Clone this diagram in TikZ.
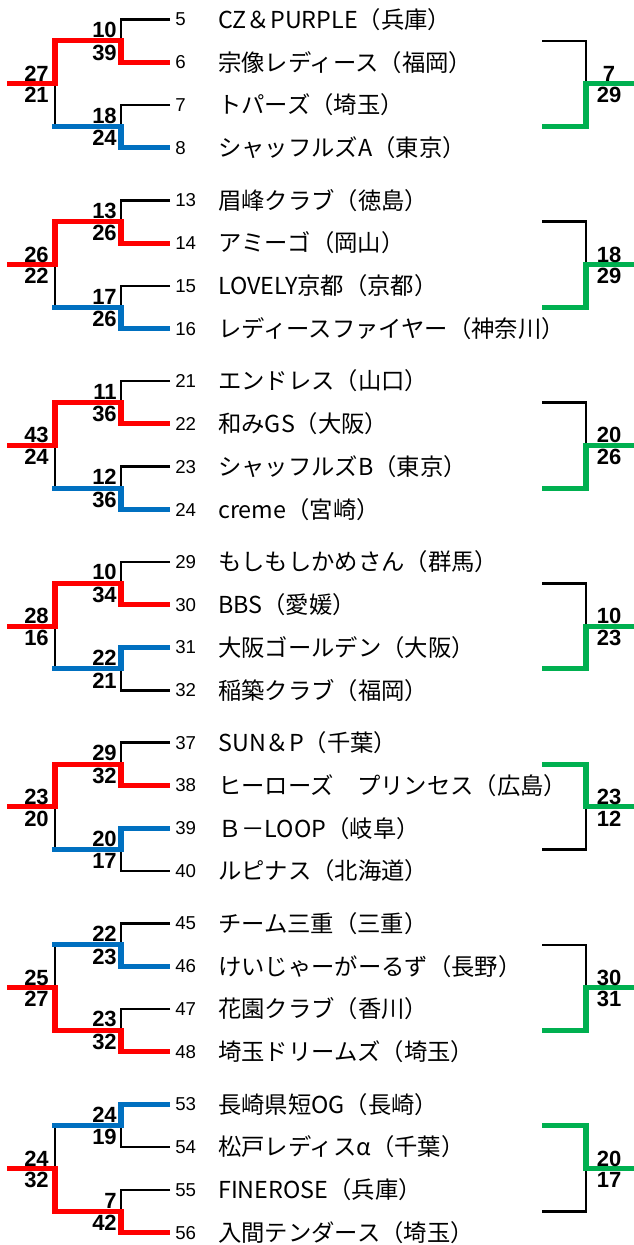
\documentclass[tikz,border=0pt]{standalone}
\usepackage{fontspec}
\setmainfont{Liberation Sans}
\newfontfamily\jpfont{Noto Sans CJK JP}
\definecolor{winred}{RGB}{255,0,0}
\definecolor{winblue}{RGB}{0,112,192}
\definecolor{wingreen}{RGB}{0,176,80}
\tikzset{
  bline/.style={line width=1.9pt, black},
  redline/.style={line width=3.8pt, winred},
  blueline/.style={line width=3.8pt, winblue},
  greenline/.style={line width=3.8pt, wingreen},
  seed/.style={anchor=west, inner sep=0pt, inner xsep=3.75pt, font=\fontsize{14}{15}\selectfont},
  teamname/.style={anchor=west, inner sep=0pt, font=\jpfont\fontsize{17.5}{19}\selectfont},
  score/.style={inner sep=0pt, font=\bfseries\fontsize{16.5}{17}\selectfont}
}

\begin{document}
\begin{tikzpicture}[x=0.75pt,y=-0.75pt]
    \useasboundingbox (0,0) rectangle (634,1245);
    % teams
    \foreach \k/\seed/\na/\nb/\nc/\nd in {
        0/5/CZ＆PURPLE（兵庫）/宗像レディース（福岡）/トパーズ（埼玉）/シャッフルズA（東京）,
        1/13/眉峰クラブ（徳島）/アミーゴ（岡山）/LOVELY京都（京都）/レディースファイヤー（神奈川）,
        2/21/エンドレス（山口）/和みGS（大阪）/シャッフルズB（東京）/creme（宮崎）,
        3/29/もしもしかめさん（群馬）/BBS（愛媛）/大阪ゴールデン（大阪）/稲築クラブ（福岡）,
        4/37/SUN＆P（千葉）/ヒーローズ　プリンセス（広島）/Ｂ－LOOP（岐阜）/ルピナス（北海道）,
        5/45/チーム三重（三重）/けいじゃーがーるず（長野）/花園クラブ（香川）/埼玉ドリームズ（埼玉）,
        6/53/長崎県短OG（長崎）/松戸レディスα（千葉）/FINEROSE（兵庫）/入間テンダース（埼玉）}{
        \pgfmathsetmacro\yy{19.5+180.8*\k}
        \foreach \i/\nm in {0/\na,1/\nb,2/\nc,3/\nd}{
            \pgfmathtruncatemacro\tn{\seed+\i}
            \node[seed] (t\tn) at (170,\yy+42.8*\i) {\tn};
            \node[teamname] (m\tn) at (218,\yy+42.8*\i) {\nm};
        }
    }
    % brackets and scores
    \foreach \k/\seed/\qa/\qb/\qc/\qd/\pa/\pb/\fw/\wa/\wb/\ga/\gb/\gw in {
        0/5/10/39/18/24/27/21/0/1/3/7/29/1,
        1/13/13/26/17/26/26/22/0/1/3/18/29/1,
        2/21/11/36/12/36/43/24/0/1/3/20/26/1,
        3/29/10/34/22/21/28/16/0/1/2/10/23/1,
        4/37/29/32/20/17/23/20/0/1/2/23/12/0,
        5/45/22/23/23/32/25/27/1/1/3/30/31/1,
        6/53/24/19/7/42/24/32/1/0/3/20/17/0}{
        \pgfmathsetmacro\yy{19.5+180.8*\k}
        \pgfmathsetmacro\ya{\yy+21.4}
        \pgfmathsetmacro\yb{\yy+107}
        \pgfmathsetmacro\yf{\yy+64.2}
        \pgfmathtruncatemacro\tA{\seed}
        \pgfmathtruncatemacro\tB{\seed+1}
        \pgfmathtruncatemacro\tC{\seed+2}
        \pgfmathtruncatemacro\tD{\seed+3}
        \coordinate (f\k) at (7,\yf);
        \coordinate (o\k) at (55,\yf);
        \coordinate (sa\k) at (55,\ya);
        \coordinate (sb\k) at (55,\yb);
        \coordinate (ia\k) at (121,\ya);
        \coordinate (ib\k) at (121,\yb);
        \coordinate (ra\k) at (542,\ya);
        \coordinate (rb\k) at (542,\yb);
        \coordinate (rv\k) at (586,\yf);
        \coordinate (re\k) at (634,\yf);
        % black lines
        \draw[bline] (t\tA.west) -| (ia\k) |- (t\tB.west);
        \draw[bline] (t\tC.west) -| (ib\k) |- (t\tD.west);
        \draw[bline] (ia\k) -- (sa\k) -- (sb\k) -- (ib\k);
        \draw[bline] (ra\k) -| (rv\k) |- (rb\k);
        % winners
        \ifnum\fw=0
            \def\rs{a}\def\bs{b}
            \pgfmathtruncatemacro\rt{\seed+\wa}
            \pgfmathtruncatemacro\bt{\seed+\wb}
        \else
            \def\rs{b}\def\bs{a}
            \pgfmathtruncatemacro\rt{\seed+\wb}
            \pgfmathtruncatemacro\bt{\seed+\wa}
        \fi
        \draw[redline] (f\k) -- (o\k) |- (i\rs\k) |- (t\rt.west);
        \draw[blueline] ([xshift=-2pt]s\bs\k) -- (i\bs\k) |- (t\bt.west);
        \ifnum\gw=0
            \draw[greenline] (ra\k) -| (rv\k) -- (re\k);
        \else
            \draw[greenline] (rb\k) -| (rv\k) -- (re\k);
        \fi
        % scores
        \node[score,anchor=south east] (qa\k) at (117,\ya-3) {\qa};
        \node[score,anchor=north east] (qb\k) at (117,\ya+3.5) {\qb};
        \node[score,anchor=south east] (qc\k) at (117,\yb-3) {\qc};
        \node[score,anchor=north east] (qd\k) at (117,\yb+3.5) {\qd};
        \node[score,anchor=south east] (pa\k) at (49,\yf-2) {\pa};
        \node[score,anchor=north east] (pb\k) at (49,\yf+3.5) {\pb};
        \node[score,anchor=south] (ga\k) at (609,\yf-2) {\ga};
        \node[score,anchor=north] (gb\k) at (609,\yf+3.5) {\gb};
    }
\end{tikzpicture}
\end{document}
